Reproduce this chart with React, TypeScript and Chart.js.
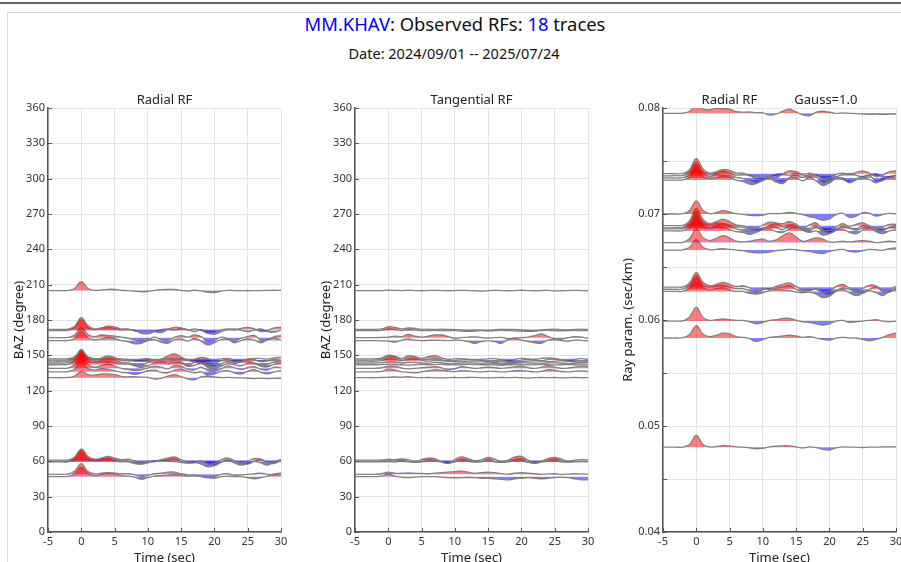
import React, { useEffect, useRef } from 'react';
import { Chart, registerables } from 'chart.js';

Chart.register(...registerables);

const FONT = '"Noto Sans", "Open Sans", "DejaVu Sans", sans-serif';

const STATION = 'MM.KHAV';
const N_TRACES = '18';
const DATE_RANGE = 'Date: 2024/09/01 -- 2025/07/24';

// sample times (sec)
const TIMES = [-5, -4, -3, -2, -1, 0, 1, 2, 3, 4, 5, 6, 7, 8, 9, 10, 11, 12, 13, 14, 15, 16, 17, 18, 19, 20, 21, 22, 23, 24, 25, 26, 27, 28, 29, 30];

// per trace (sorted by ray parameter)
const RAYP = [0.0795, 0.0738, 0.0736, 0.0734, 0.0732, 0.07, 0.0689, 0.0687, 0.0686, 0.0684, 0.0673, 0.0666, 0.0631, 0.0629, 0.0627, 0.0599, 0.0583, 0.048];
const BAZ = [131, 172, 171, 165, 162.5, 146, 143.5, 142, 139, 136, 145, 147, 61, 60, 59.5, 49, 47, 205];

// radial RF amplitudes at TIMES
const RADIAL = [
  [0, 0, 0, 0.02, 0.15, 0.6, 0.3, 0.25, 0.35, 0.35, 0.3, 0.12, 0.08, 0.1, 0.05, 0.03, -0.12, -0.05, 0.15, 0.3, 0.1, -0.12, -0.18, 0.08, 0.15, 0.08, 0, 0.03, 0, -0.02, -0.05, -0.08, -0.06, -0.08, -0.06, -0.05],
  [0, 0, 0, 0.02, 0.3, 1.1, 0.35, 0.05, 0.15, 0.3, 0.25, 0.05, 0.05, -0.15, -0.2, -0.15, -0.2, -0.3, 0, 0.2, 0.15, -0.05, 0.05, -0.1, -0.35, -0.3, -0.05, 0.05, -0.05, 0.1, 0.2, 0.05, -0.2, -0.1, 0.15, 0.2],
  [0, 0, 0.01, 0.03, 0.3, 1.0, 0.3, 0.1, 0.2, 0.35, 0.2, 0.05, 0.1, 0.05, -0.25, -0.3, -0.1, 0.1, 0.15, 0.05, 0.2, 0.1, -0.1, 0.1, -0.25, -0.35, -0.1, 0.1, 0.15, 0.05, -0.1, 0.05, 0.15, -0.1, -0.15, 0.05],
  [0, 0, 0, 0.02, 0.25, 0.95, 0.3, 0.1, 0.25, 0.2, 0.15, 0.05, -0.05, -0.2, -0.35, -0.2, 0.05, -0.2, -0.3, 0.05, 0.2, 0.05, 0.25, 0.1, -0.35, -0.25, 0.05, -0.1, -0.3, -0.05, 0.1, 0.2, -0.25, -0.2, 0.1, 0.2],
  [0, 0, 0, 0.01, 0.2, 0.9, 0.25, 0.1, 0.15, 0.3, 0.2, 0, -0.1, -0.3, -0.25, 0, 0.1, -0.15, -0.25, 0.1, 0.15, -0.05, 0.2, -0.05, -0.4, -0.2, 0.1, 0.15, -0.2, 0, 0.15, 0.05, -0.2, 0.1, 0.25, 0.05],
  [0, 0, 0, 0.02, 0.25, 0.95, 0.25, 0.03, 0.1, 0.25, 0.15, 0.02, -0.02, -0.1, -0.12, -0.08, 0.02, 0.03, 0.05, 0.12, 0.05, -0.05, -0.2, -0.3, -0.45, -0.35, -0.05, 0.05, -0.25, -0.15, 0.1, 0.05, -0.15, -0.05, 0.05, 0],
  [0, 0, 0, 0.03, 0.35, 1.25, 0.45, 0.15, 0.3, 0.45, 0.3, 0.05, 0, -0.15, -0.2, 0.05, 0.25, 0.2, 0.15, 0.3, 0.1, -0.2, 0.05, 0.2, -0.3, -0.35, -0.1, 0.15, -0.05, 0.1, 0.2, 0, -0.2, -0.1, 0.1, 0.1],
  [0, 0, 0.01, 0.03, 0.35, 1.2, 0.4, 0.2, 0.35, 0.3, 0.2, 0.1, 0.05, -0.1, -0.25, -0.1, 0.15, 0.3, 0.1, 0.2, 0.15, -0.15, -0.05, 0.15, -0.25, -0.4, -0.15, 0.1, 0, -0.1, 0.15, 0.1, -0.15, -0.2, 0.05, 0.15],
  [0, 0, 0, 0.02, 0.3, 1.1, 0.35, 0.1, 0.25, 0.4, 0.2, 0, -0.1, -0.2, -0.15, 0.05, 0.2, 0.1, -0.05, 0.25, 0.2, -0.1, -0.15, 0.1, -0.2, -0.3, -0.05, 0.2, 0.05, -0.1, 0.05, 0.15, -0.1, -0.15, 0.1, 0.05],
  [0, 0, 0, 0.02, 0.25, 1.0, 0.3, 0.15, 0.3, 0.25, 0.1, -0.05, -0.1, -0.25, -0.1, 0.1, 0.15, -0.05, -0.1, 0.15, 0.25, 0.05, -0.1, 0, -0.3, -0.2, 0.05, 0.1, -0.1, -0.2, 0.05, 0.2, -0.05, -0.2, 0, 0.1],
  [0, 0, 0, 0.02, 0.3, 1.0, 0.35, 0.15, 0.3, 0.5, 0.35, 0.1, 0.05, 0.1, 0.2, 0.25, 0.1, 0.2, 0.5, 0.7, 0.4, 0.1, 0.2, 0.35, 0.25, 0.05, 0.05, 0.1, 0.05, 0.1, 0.15, 0.1, 0, 0.05, 0.1, 0.05],
  [0, 0, 0, 0.02, 0.2, 0.75, 0.2, 0.02, 0.05, 0.1, 0.05, 0, -0.05, -0.15, -0.2, -0.2, -0.15, -0.05, 0, 0.05, 0.02, -0.05, -0.1, -0.2, -0.25, -0.1, 0, 0.05, -0.1, -0.15, -0.05, 0.05, 0.02, -0.02, 0.1, 0.15],
  [0, 0, 0, 0.02, 0.3, 1.05, 0.35, 0.1, 0.2, 0.35, 0.2, 0.05, 0.1, -0.05, -0.2, -0.1, -0.15, 0.05, 0.2, 0.3, 0.05, -0.2, -0.25, -0.1, -0.35, -0.3, 0.05, 0.2, -0.05, -0.25, -0.1, 0.15, 0.1, -0.2, -0.15, 0.05],
  [0, 0, 0, 0.02, 0.3, 1.0, 0.3, 0.15, 0.25, 0.3, 0.15, 0.05, 0.05, -0.1, -0.25, -0.05, 0.05, 0.1, 0.15, 0.25, 0, -0.15, -0.1, 0, -0.3, -0.4, -0.1, 0.1, 0, -0.2, -0.25, 0, 0.15, -0.15, -0.2, 0.1],
  [0, 0, 0, 0.01, 0.25, 0.9, 0.25, 0.1, 0.2, 0.25, 0.1, 0, 0, -0.15, -0.2, -0.1, 0.05, 0.15, 0.1, 0.05, -0.05, -0.1, -0.05, -0.2, -0.45, -0.35, 0, 0.15, -0.1, -0.3, -0.15, 0.05, -0.1, -0.3, 0, 0.15],
  [0, 0, 0, 0.02, 0.3, 1.0, 0.25, 0.05, 0.1, 0.15, 0.1, 0.05, 0.05, -0.05, -0.2, -0.1, 0.05, 0.1, 0.2, 0.2, 0.05, -0.05, -0.1, -0.2, -0.3, -0.2, 0, 0.05, -0.1, -0.05, 0, 0.05, 0.1, 0, -0.05, 0],
  [0, 0, 0, 0.02, 0.25, 0.9, 0.3, 0.1, 0.2, 0.35, 0.3, 0.1, 0.05, -0.05, -0.25, -0.1, 0.05, 0.1, 0.15, 0.2, 0.15, 0.05, 0.1, 0, -0.1, -0.15, 0, 0.05, 0, 0, -0.1, -0.2, -0.1, 0.05, 0.25, 0.35],
  [0, 0, 0, 0.01, 0.2, 0.85, 0.2, 0.02, 0.05, 0.12, 0.1, 0.02, 0, -0.05, -0.12, -0.08, 0.02, 0.08, 0.1, 0.1, 0.02, -0.05, 0.03, -0.03, -0.15, -0.2, -0.05, 0.02, 0, 0, -0.02, 0, 0, 0.02, 0.03, 0.02],
];

// tangential RF amplitudes at TIMES
const TANGENTIAL = [
  [0, 0, 0, 0, 0.02, 0.05, 0.08, 0.05, 0.1, 0.03, 0, 0.02, 0, -0.02, 0, 0.02, 0, 0.02, 0.03, 0, -0.02, 0, 0.02, 0, 0.03, 0, -0.03, 0, 0.02, 0, 0.02, -0.02, 0, 0.02, 0, 0],
  [0, 0, 0, 0, 0.05, 0.25, 0.2, 0.05, 0.15, 0.1, 0, 0.02, 0, 0.02, 0, -0.02, -0.05, -0.1, -0.05, -0.08, -0.1, -0.02, 0.02, 0, 0, -0.05, -0.1, -0.12, -0.05, 0, 0.02, -0.02, -0.05, 0, 0.03, 0],
  [0, 0, 0, 0, 0.03, 0.15, 0.12, 0, 0.08, 0.05, 0, 0, 0.02, 0, -0.02, 0, -0.05, -0.08, -0.05, 0, -0.03, 0, 0.02, 0, -0.02, -0.05, -0.08, -0.05, 0, 0.02, 0, -0.03, 0, 0.02, 0, 0],
  [0, 0, 0, 0, 0.02, 0.05, 0.15, 0.1, 0.3, 0.15, 0.05, 0.15, 0.25, 0.25, 0.1, -0.05, 0, 0.05, 0.08, 0, -0.05, 0, 0.02, -0.1, -0.05, 0, 0.05, 0.2, 0.35, 0.1, -0.1, -0.15, 0, 0.1, 0.05, -0.05],
  [0, 0, 0, 0, -0.02, -0.05, -0.15, 0.05, 0.15, 0.05, 0, 0.02, 0.05, 0.02, 0, 0.05, 0.02, -0.1, -0.25, -0.1, 0, -0.1, -0.25, 0.1, 0.2, 0.05, -0.1, -0.2, -0.25, 0.05, 0.1, 0, -0.05, 0.05, 0.02, -0.03],
  [0, 0, 0, 0.01, 0.08, 0.3, 0.3, 0, 0.2, 0.25, 0.05, 0.05, 0.15, 0.05, -0.1, -0.05, 0.02, 0.05, 0.02, -0.05, -0.1, -0.05, 0, -0.15, -0.2, 0, 0.05, 0, -0.05, 0.05, 0.1, 0, -0.1, -0.15, -0.05, -0.1],
  [0, 0, 0, 0, 0.03, 0.1, 0.1, 0, 0.05, 0.05, 0, -0.02, 0.05, 0.02, -0.05, -0.08, 0, 0.02, 0, -0.03, 0, -0.05, -0.1, -0.05, 0, 0.02, 0, 0, -0.02, 0, 0.02, 0, -0.05, -0.03, 0, 0.02],
  [0, 0, 0, 0, 0.02, 0.05, 0.05, 0, -0.03, 0, 0.03, 0, 0.02, 0.05, 0, -0.02, 0, 0.03, 0.02, 0, 0, -0.03, -0.05, 0, 0.02, 0, -0.02, 0, 0.03, 0, -0.02, 0, 0.02, 0, -0.02, 0],
  [0, 0, 0, 0, 0.05, 0.2, 0.2, 0.02, -0.05, 0, 0.05, 0.1, 0.15, 0.05, -0.15, -0.05, 0.15, 0.08, 0, 0.05, 0.1, 0.05, 0, 0.05, 0.15, 0.2, 0.05, 0, 0.1, 0.25, 0.1, 0, 0.02, 0.1, 0.2, 0.15],
  [0, 0, 0, 0, 0.05, 0.25, 0.15, 0, -0.05, -0.1, 0, 0.1, 0.2, 0.15, 0.05, 0.02, 0.12, 0.08, 0.02, 0, 0.05, 0.03, 0, 0.02, 0.1, 0.12, 0.05, 0, 0.05, 0.2, 0.15, 0.03, 0, 0.05, 0.08, 0.03],
  [0, 0, 0, 0, 0.05, 0.2, 0.15, 0.05, 0.15, 0.2, 0.1, 0, 0.1, 0.05, 0, -0.05, -0.02, 0, 0.03, 0, -0.05, -0.1, -0.05, -0.1, -0.15, -0.05, 0, 0.05, 0, -0.05, 0, 0.05, 0, -0.05, -0.1, -0.05],
  [0, 0, 0, 0.02, 0.1, 0.35, 0.25, 0.05, 0.3, 0.2, 0.05, 0.2, 0.3, 0.1, -0.05, 0, 0.02, -0.05, -0.1, -0.05, 0, 0.02, -0.1, -0.2, -0.05, 0.05, 0, -0.05, 0.05, 0.1, 0.05, -0.1, -0.2, -0.05, 0.02, -0.05],
  [0, 0, 0, 0, 0.02, 0.1, 0.05, 0.12, 0.05, -0.12, 0.05, 0.2, 0.15, -0.15, -0.3, 0.05, 0.3, 0.15, -0.05, 0.05, 0.25, 0.1, -0.15, 0, 0.3, 0.35, 0, -0.25, -0.1, 0.15, 0.25, 0.1, -0.1, 0, 0.05, 0.02],
  [0, 0, 0, 0, 0.02, 0.05, 0.03, 0.1, 0, -0.08, 0, 0.15, 0.1, -0.05, -0.2, 0, 0.2, 0.1, 0, 0, 0.15, 0, -0.1, 0.05, 0.2, 0.25, -0.05, -0.2, -0.05, 0.1, 0.2, 0.05, -0.05, 0, 0, 0],
  [0, 0, 0, 0, 0, 0.03, 0, 0.05, 0, -0.05, 0, 0.05, 0.05, 0, -0.1, 0, 0.1, 0.05, -0.02, 0, 0.1, 0, -0.05, 0, 0.1, 0.1, -0.05, -0.1, 0, 0.05, 0.1, 0, -0.02, 0, 0.02, 0],
  [0, 0, 0, 0, 0.05, 0.2, 0.1, 0.1, 0.12, 0.1, 0.08, 0.05, 0.1, 0.15, 0.2, 0.25, 0.3, 0.2, 0.1, 0.15, 0.2, 0.15, 0.05, 0, 0.1, 0.15, 0.1, 0.05, 0, 0.03, 0.05, 0, 0.02, 0.05, 0.03, 0],
  [0, 0, 0, 0, 0.05, 0.25, 0.05, -0.05, -0.1, -0.05, 0, 0, 0, -0.05, -0.1, -0.12, -0.1, -0.08, -0.1, -0.15, -0.15, -0.2, -0.25, -0.3, -0.2, -0.15, -0.1, -0.15, -0.2, -0.15, -0.1, -0.05, -0.1, -0.2, -0.3, -0.3],
  [0, 0, 0, 0, 0, 0.03, 0.02, 0, 0.02, 0, -0.02, 0, 0.02, 0, -0.02, 0, 0.02, 0, -0.02, -0.05, 0, 0.02, 0, -0.02, 0, 0.03, 0, -0.02, 0, 0.02, -0.03, -0.02, 0, 0.02, 0, -0.02],
];

const BAZ_GAIN = 9; // degrees per unit amplitude
const RAYP_GAIN = 0.0013; // sec/km per unit amplitude

const GRID = '#e3e3e3';
const AXIS = '#555';
const TEXT = '#222';

const innerTicks = {
  id: 'innerTicks',
  afterDraw(chart: any) {
    const { ctx, chartArea, scales } = chart;
    const xs = scales.x;
    const ys = scales.y;
    ctx.save();
    ctx.strokeStyle = AXIS;
    ctx.lineWidth = 1;
    ctx.beginPath();
    xs.ticks.forEach((t: any) => {
      const px = Math.round(xs.getPixelForValue(t.value)) + 0.5;
      ctx.moveTo(px, chartArea.bottom);
      ctx.lineTo(px, chartArea.bottom - 4);
    });
    ys.ticks.forEach((t: any) => {
      const py = Math.round(ys.getPixelForValue(t.value)) + 0.5;
      ctx.moveTo(chartArea.left, py);
      ctx.lineTo(chartArea.left + 4, py);
    });
    ctx.stroke();
    ctx.restore();
  },
};

type Spec = {
  title: string;
  yTitle: string;
  yMin: number;
  yMax: number;
  yStep: number;
  bases: number[];
  waves: number[][];
  gain: number;
  fmt: (v: number) => string;
  padLeft: number;
  yWidth: number;
  yTitlePad: number;
};

function buildConfig(spec: Spec): any {
  return {
    type: 'line',
    data: {
      datasets: spec.bases.map((b, i) => ({
        data: TIMES.map((t, k) => ({ x: t, y: b + spec.gain * spec.waves[i][k] })),
        borderColor: 'rgba(125,125,125,0.95)',
        borderWidth: 1.3,
        pointRadius: 0,
        tension: 0.4,
        fill: { target: { value: b }, above: 'rgba(255,0,0,0.5)', below: 'rgba(0,0,255,0.5)' },
      })),
    },
    options: {
      animation: false,
      responsive: false,
      devicePixelRatio: 1,
      events: [],
      layout: { padding: { left: spec.padLeft, right: 19, top: 0, bottom: 0 } },
      plugins: {
        legend: { display: false },
        tooltip: { enabled: false },
        title: {
          display: true,
          fullSize: false,
          text: spec.title,
          color: TEXT,
          font: { family: FONT, size: 13, weight: 'normal' },
          padding: { top: 4, bottom: 0.4 },
        },
      },
      scales: {
        x: {
          type: 'linear',
          min: -5,
          max: 30,
          afterFit: (s: any) => {
            s.height = 40;
          },
          ticks: { stepSize: 5, autoSkip: false, maxRotation: 0, padding: 3, color: '#333', font: { family: FONT, size: 11 } },
          grid: { color: GRID, drawTicks: false },
          border: { color: AXIS, width: 1.5 },
          title: { display: true, text: 'Time (sec)', color: TEXT, font: { family: FONT, size: 13 }, padding: { top: 0, bottom: 6 } },
        },
        y: {
          type: 'linear',
          min: spec.yMin,
          max: spec.yMax,
          afterFit: (s: any) => {
            s.width = spec.yWidth;
          },
          ticks: { stepSize: spec.yStep, autoSkip: false, padding: 3, color: '#333', font: { family: FONT, size: 11 }, callback: (v: any) => spec.fmt(Number(v)) },
          grid: { color: GRID, drawTicks: false },
          border: { color: AXIS, width: 1.5 },
          title: { display: true, text: spec.yTitle, color: TEXT, font: { family: FONT, size: 13 }, padding: { top: spec.yTitlePad, bottom: 0 } },
        },
      },
    },
    plugins: [innerTicks],
  };
}

function Panel({ left, spec }: { left: number; spec: Spec }) {
  const ref = useRef<HTMLCanvasElement | null>(null);
  useEffect(() => {
    const chart = new Chart(ref.current as HTMLCanvasElement, buildConfig(spec));
    return () => chart.destroy();
  }, []);
  return <canvas ref={ref} width={300} height={484} style={{ position: 'absolute', left, top: 88, width: 300, height: 484 }} />;
}

const bazFmt = (v: number) => String(Math.round(v));
const raypFmt = (v: number) => {
  const r = Math.round(v * 1000);
  return r % 10 === 0 ? (r / 1000).toFixed(2) : '';
};

const RADIAL_SPEC: Spec = { title: 'Radial RF', yTitle: 'BAZ (degree)', yMin: 0, yMax: 360, yStep: 30, bases: BAZ, waves: RADIAL, gain: BAZ_GAIN, fmt: bazFmt, padLeft: 8, yWidth: 40, yTitlePad: 3 };
const TANG_SPEC: Spec = { title: 'Tangential RF', yTitle: 'BAZ (degree)', yMin: 0, yMax: 360, yStep: 30, bases: BAZ, waves: TANGENTIAL, gain: BAZ_GAIN, fmt: bazFmt, padLeft: 8, yWidth: 40, yTitlePad: 3 };
const RAYP_SPEC: Spec = { title: 'Radial RF           Gauss=1.0', yTitle: 'Ray param. (sec/km)', yMin: 0.04, yMax: 0.08, yStep: 0.005, bases: RAYP, waves: RADIAL, gain: RAYP_GAIN, fmt: raypFmt, padLeft: 0, yWidth: 48, yTitlePad: 5 };

export default function App() {
  return (
    <div style={{ position: 'absolute', left: 0, top: 0, width: 901, height: 562, overflow: 'hidden', background: '#fff', fontFamily: FONT }}>
      <div style={{ position: 'absolute', left: 0, top: 2, width: 901, height: 0, borderTop: '2px solid #666' }} />
      <div style={{ position: 'absolute', left: 7, top: 12, width: 900, height: 600, borderTop: '1px solid #dcdcdc', borderLeft: '1px solid #dcdcdc' }} />
      <div style={{ position: 'absolute', left: 455, top: 12, transform: 'translateX(-50%)', whiteSpace: 'nowrap', fontSize: 18.4, lineHeight: '24px', color: '#111' }}>
        <span style={{ color: '#0000ff' }}>{STATION}</span>: Observed RFs: <span style={{ color: '#0000ff' }}>{N_TRACES}</span> traces
      </div>
      <div style={{ position: 'absolute', left: 454, top: 43, transform: 'translateX(-50%)', whiteSpace: 'nowrap', fontSize: 14.5, lineHeight: '20px', color: '#111' }}>
        {DATE_RANGE}
      </div>
      <Panel left={0} spec={RADIAL_SPEC} />
      <Panel left={307} spec={TANG_SPEC} />
      <Panel left={615} spec={RAYP_SPEC} />
    </div>
  );
}
